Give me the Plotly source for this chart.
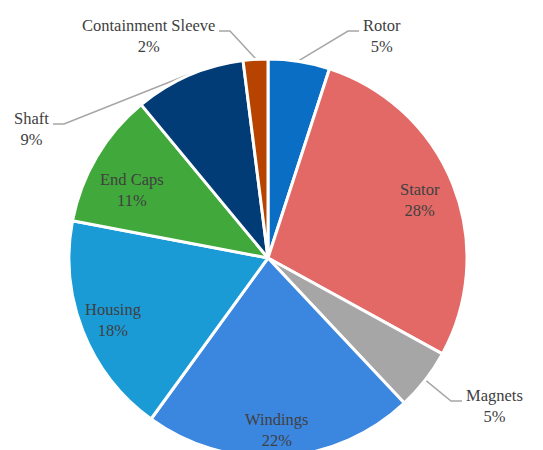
import math
import plotly.graph_objects as go

# ---- data ----
labels = ["Rotor", "Stator", "Magnets", "Windings", "Housing", "End Caps", "Shaft", "Containment Sleeve"]
values = [5, 28, 5, 22, 18, 11, 9, 2]

# ---- style ----
colors = ["#0a6fc4", "#e26966", "#a6a6a6", "#3b86df", "#1a9bd6", "#41a83b", "#023c77", "#b64400"]
W, H = 543, 450
OFF = 8                        # page body margin offset of the figure
CX, CY, R = 268.0 - OFF, 258.0 - OFF, 199.0   # pie centre / radius in figure px
FAMILY = "Liberation Serif"
FONT_SIZE = 16.5
TEXT_COLOR = "#404040"
LINE_COLOR = "#a6a6a6"

# inside labels: (radial fraction of the radius, angular nudge in degrees)
inside_pos = {"Stator": (0.818, 0.7), "Windings": (0.863, 0.6),
              "Housing": (0.839, -0.2), "End Caps": (0.764, -4.0)}
# outside labels: end of leader line (screen px) and which side the text sits on
outside = {
    "Rotor": (359, 31, "left"),
    "Containment Sleeve": (219, 31, "right"),
    "Shaft": (53, 124, "right"),
    "Magnets": (462, 401, "left"),
}

fig = go.Figure()
fig.add_trace(go.Pie(
    labels=labels, values=values, sort=False, direction="clockwise", rotation=0,
    marker=dict(colors=colors, line=dict(color="white", width=3)),
    textinfo="none", hoverinfo="label+percent", showlegend=False,
    domain=dict(x=[(CX - R) / W, (CX + R) / W], y=[max(0, 1 - (CY + R) / H), 1 - (CY - R) / H]),
))

total = sum(values)
cum = 0.0
annotations = []
for lab, v in zip(labels, values):
    mid = (cum + v / 2) / total * 2 * math.pi
    cum += v
    pct = round(v / total * 100)
    text = f"{lab}<br>{pct}%"
    font = dict(family=FAMILY, size=FONT_SIZE, color=TEXT_COLOR)
    if lab in inside_pos:
        f, nudge = inside_pos[lab]
        a = mid + math.radians(nudge)
        x = CX + R * f * math.sin(a)
        y = CY - R * f * math.cos(a)
        annotations.append(dict(x=x, y=y, xref="x", yref="y", text=text, showarrow=False,
                                font=font, align="center", xanchor="center", yanchor="middle"))
    else:
        ex, ey, side = outside[lab]
        ex, ey = ex - OFF, ey - OFF
        sx = CX + (R + 1) * math.sin(mid)
        sy = CY - (R + 1) * math.cos(mid)
        elbow_x = ex - 11 if side == "left" else ex + 11
        fig.add_trace(go.Scatter(x=[sx, elbow_x, ex], y=[sy, ey, ey], mode="lines",
                                 line=dict(color=LINE_COLOR, width=1.5),
                                 hoverinfo="skip", showlegend=False))
        tx = ex + 2 if side == "left" else ex - 2
        annotations.append(dict(x=tx, y=ey + 5, xref="x", yref="y", text=text, showarrow=False,
                                font=font, align="center", xanchor=side, yanchor="middle"))

fig.update_layout(
    width=W, height=H, margin=dict(l=0, r=0, t=0, b=0),
    font=dict(family=FAMILY, size=FONT_SIZE, color=TEXT_COLOR),
    paper_bgcolor="white", plot_bgcolor="rgba(0,0,0,0)",
    xaxis=dict(range=[0, W], visible=False, fixedrange=True),
    yaxis=dict(range=[H, 0], visible=False, fixedrange=True),
    annotations=annotations,
)
fig.write_html("out.html")
